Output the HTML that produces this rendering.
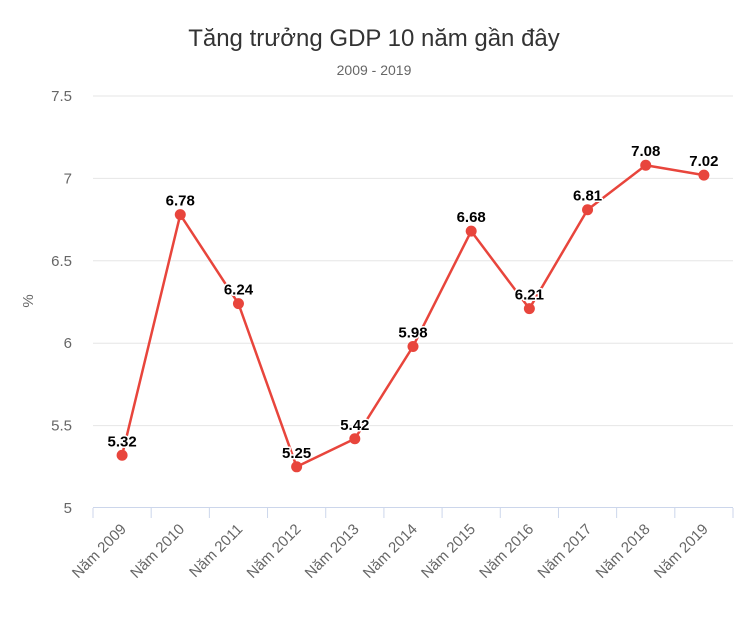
<!DOCTYPE html>
<html><head><meta charset="utf-8"><style>
body{margin:0;background:#fff;}
svg{display:block;font-family:"Liberation Sans","DejaVu Sans",sans-serif;}
</style></head><body>
<svg id="chart" width="749" height="620">
<text x="374" y="46" text-anchor="middle" font-size="24" fill="#333">Tăng trưởng GDP 10 năm gần đây</text>
<text x="374" y="75" text-anchor="middle" font-size="14" fill="#666">2009 - 2019</text>
<text transform="translate(33,301) rotate(-90)" text-anchor="middle" font-size="15" fill="#666">%</text>
<g id="grid"></g><g id="xaxis"></g><g id="series"></g><g id="labels"></g>
</svg>
<script>
const categories=["Năm 2009","Năm 2010","Năm 2011","Năm 2012","Năm 2013","Năm 2014","Năm 2015","Năm 2016","Năm 2017","Năm 2018","Năm 2019"];
const values=[5.32,6.78,6.24,5.25,5.42,5.98,6.68,6.21,6.81,7.08,7.02];
const yTicks=[5,5.5,6,6.5,7,7.5];
const NS="http://www.w3.org/2000/svg";
const left=93,right=733,yTop=96,yBot=508,yMin=5,yMax=7.5;
const band=(right-left)/categories.length;
const xs=i=>left+band*(i+0.5);
const ys=v=>yBot-(v-yMin)/(yMax-yMin)*(yBot-yTop);
function mk(tag,attrs,parent){const e=document.createElementNS(NS,tag);for(const k in attrs)e.setAttribute(k,attrs[k]);parent.appendChild(e);return e;}
const grid=document.getElementById('grid');
yTicks.forEach(t=>{
 const y=ys(t);
 if(t!==yMin){const l=mk('line',{x1:left,x2:right,y1:y,y2:y,stroke:'#e6e6e6','stroke-width':1},grid);
 
 }
 const tx=mk('text',{x:72,y:y+5,'text-anchor':'end','font-size':15,fill:'#666'},grid);
 tx.textContent=String(t);
 
 
});
const xa=document.getElementById('xaxis');
const al=mk('line',{x1:left,x2:right,y1:yBot-0.5,y2:yBot-0.5,stroke:'#ccd6eb','stroke-width':1},xa);


for(let i=0;i<=categories.length;i++){
 const x=left+band*i;
 const tk=mk('line',{x1:x,x2:x,y1:yBot,y2:yBot+10,stroke:'#ccd6eb','stroke-width':1},xa);
 
 
}
categories.forEach((c,i)=>{
 const x=xs(i)+5,y=yBot+22;
 const t=mk('text',{transform:`translate(${x},${y}) rotate(-45)`,'text-anchor':'end','font-size':15,fill:'#666'},xa);
 t.textContent=c;
 
 
});
const s=document.getElementById('series');
const pl=mk('polyline',{points:values.map((v,i)=>xs(i)+','+ys(v)).join(' '),fill:'none',stroke:'#e8453c','stroke-width':2.5,'stroke-linejoin':'round'},s);


const lb=document.getElementById('labels');
values.forEach((v,i)=>{
 const c=mk('circle',{cx:xs(i),cy:ys(v),r:5.5,fill:'#e8453c'},s);
 
 
 const t=mk('text',{x:xs(i),y:ys(v)-9,'text-anchor':'middle','font-size':15,'font-weight':'bold',fill:'#000',stroke:'#fff','stroke-width':3,'paint-order':'stroke','stroke-linejoin':'round'},lb);
 t.textContent=v.toFixed(2);
 
 
});
</script>
</body></html>
